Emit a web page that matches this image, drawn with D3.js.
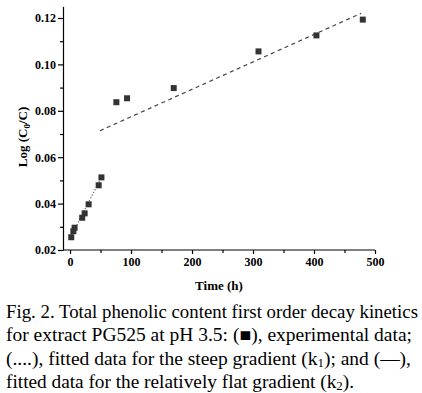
<!DOCTYPE html>
<html>
<head>
<meta charset="utf-8">
<script src="https://cdnjs.cloudflare.com/ajax/libs/d3/7.8.5/d3.min.js"></script>
<style>
  html, body { margin: 0; padding: 0; background: #fff; }
  svg { display: block; }
  .tick text { font-family: "Liberation Serif", "Times New Roman", serif; font-weight: bold; font-size: 12px; fill: #000; }
  .axis path, .axis line { stroke: #000; stroke-width: 1.2; }
</style>
</head>
<body>
<div id="chart"></div>
<script>
// experimental data (time in h, log(C0/C))
const timeH = [2, 5.5, 7.5, 20, 24, 30.5, 47, 51.5, 76, 93.5, 170, 309, 404, 480];
const logRatio = [0.0255, 0.0281, 0.0296, 0.0339, 0.0358, 0.0397, 0.0479, 0.0513,
                  0.0837, 0.0854, 0.0898, 0.1056, 0.1125, 0.1193];

// fitted lines, end points
const steepFitX = [2, 52];
const steepFitY = [0.0262, 0.0515];
const flatFitX = [49, 477];
const flatFitY = [0.0714, 0.1220];

const xTicks = [0, 100, 200, 300, 400, 500];
const yTicks = [0.02, 0.04, 0.06, 0.08, 0.10, 0.12];

const captionLines = [
  "Fig. 2. Total phenolic content first order decay kinetics",
  "for extract PG525 at pH 3.5: (\u25A0), experimental data;",
  ["(....), fitted data for the steep gradient (k", "1", "); and (\u2014),"],
  ["fitted data for the relatively flat gradient (k", "2", ")."]
];

const W = 422, H = 393;
const svg = d3.select("#chart").append("svg").attr("width", W).attr("height", H);

const x = d3.scaleLinear().domain([-11.5, 500]).range([63, 375]);
const y = d3.scaleLinear().domain([0.02, 0.125]).range([250, 6.4]);

// axes
const xAxis = svg.append("g").attr("class", "axis").attr("transform", "translate(0,250)")
  .call(d3.axisBottom(x).tickValues(xTicks).tickSize(4).tickPadding(3).tickSizeOuter(0));
xAxis.select(".domain").attr("d", `M${x.range()[0]},0H${x.range()[1]}`);
svg.append("g").attr("class", "axis").attr("transform", "translate(0,250)")
  .call(d3.axisBottom(x).tickValues(d3.range(50, 500, 100)).tickSize(3).tickFormat("").tickSizeOuter(0))
  .select(".domain").remove();

svg.append("g").attr("class", "axis").attr("transform", "translate(63,0)")
  .call(d3.axisLeft(y).tickValues(yTicks).tickSize(5).tickPadding(2).tickSizeOuter(0)
    .tickFormat(d3.format(".2f")));
svg.append("g").attr("class", "axis").attr("transform", "translate(63,0)")
  .call(d3.axisLeft(y).tickValues([0.03, 0.05, 0.07, 0.09, 0.11]).tickSize(3).tickFormat("").tickSizeOuter(0))
  .select(".domain").remove();

// fitted lines
const line = d3.line().x(d => x(d[0])).y(d => y(d[1]));
svg.append("path")
  .datum(d3.zip(steepFitX, steepFitY))
  .attr("d", line)
  .attr("fill", "none").attr("stroke", "#666").attr("stroke-width", 1.2)
  .attr("stroke-dasharray", "1.2,1.8");
svg.append("path")
  .datum(d3.zip(flatFitX, flatFitY))
  .attr("d", line)
  .attr("fill", "none").attr("stroke", "#444").attr("stroke-width", 1.2)
  .attr("stroke-dasharray", "4,3.5");

// points
const sz = 6;
svg.append("g").selectAll("rect")
  .data(d3.zip(timeH, logRatio))
  .join("rect")
  .attr("x", d => x(d[0]) - sz / 2)
  .attr("y", d => y(d[1]) - sz / 2)
  .attr("width", sz).attr("height", sz)
  .attr("fill", "#333");

// axis titles
svg.append("text")
  .attr("x", 219).attr("y", 290)
  .attr("text-anchor", "middle")
  .style("font-family", "Liberation Serif, serif").style("font-weight", "bold").style("font-size", "13px")
  .text("Time (h)");

const yl = svg.append("text")
  .attr("transform", "translate(27,137) rotate(-90)")
  .attr("text-anchor", "middle")
  .style("font-family", "Liberation Serif, serif").style("font-weight", "bold").style("font-size", "13px");
yl.append("tspan").text("Log (C");
yl.append("tspan").attr("dy", 3).style("font-size", "9px").text("0");
yl.append("tspan").attr("dy", -3).text("/C)");

// caption
const baselines = [317.5, 341, 364.5, 387.5];
const widths = [412, 406, 405, 348];
captionLines.forEach((ln, i) => {
  const t = svg.append("text")
    .attr("x", 6).attr("y", baselines[i])
    .style("font-family", "Liberation Serif, 'Times New Roman', serif")
    .style("font-size", "18px");
  if (widths[i]) t.attr("textLength", widths[i]).attr("lengthAdjust", "spacingAndGlyphs");
  if (typeof ln === "string") {
    t.text(ln);
  } else {
    t.append("tspan").text(ln[0]);
    t.append("tspan").attr("dy", 2.5).style("font-size", "12px").text(ln[1]);
    t.append("tspan").attr("dy", -2.5).text(ln[2]);
  }
});
</script>
</body>
</html>
